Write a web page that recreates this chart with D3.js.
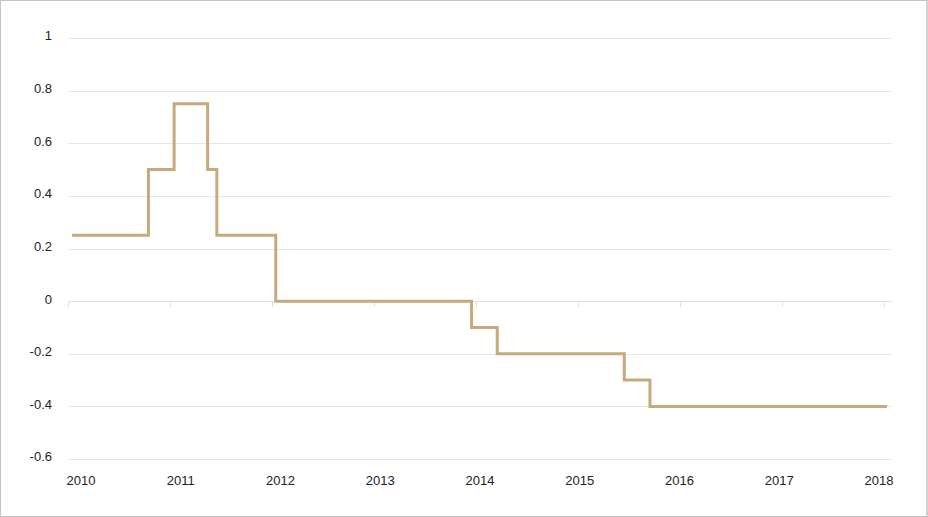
<!DOCTYPE html>
<html>
<head>
<meta charset="utf-8">
<script src="https://cdn.jsdelivr.net/npm/d3@7"></script>
<style>
  html, body { margin: 0; padding: 0; background: #fff; }
  svg { display: block; }
  text { font-family: "Liberation Sans", Arial, sans-serif; }
</style>
</head>
<body>
<svg id="chart" width="928" height="517"></svg>
<script>
// ---- data ----
const stepDates = ["2010-01-15", "2010-10-16", "2011-01-16", "2011-05-16", "2011-06-18",
                   "2012-01-15", "2013-12-16", "2014-03-18", "2015-06-16", "2015-09-16", "2018-01-12"];
const stepValues = [0.25, 0.5, 0.75, 0.5, 0.25, 0, -0.1, -0.2, -0.3, -0.4, -0.4];
const yTicks = [1, 0.8, 0.6, 0.4, 0.2, 0, -0.2, -0.4, -0.6];
const yTickLabels = ["1", "0.8", "0.6", "0.4", "0.2", "0", "-0.2", "-0.4", "-0.6"];
const xYears = [2010, 2011, 2012, 2013, 2014, 2015, 2016, 2017, 2018];
const xTickLabels = ["2010", "2011", "2012", "2013", "2014", "2015", "2016", "2017", "2018"];

const W = 928, H = 517;
const svg = d3.select("#chart");

// border
svg.append("rect").attr("x", 0.5).attr("y", 0.5).attr("width", W - 1.5).attr("height", H - 1)
  .attr("fill", "#fff").attr("stroke", "#c4c4c4").attr("stroke-width", 1);
svg.append("line").attr("x1", W - 1).attr("x2", W - 1).attr("y1", 0).attr("y2", H)
  .attr("stroke", "#c4c4c4").attr("stroke-width", 1);

const parse = d3.timeParse("%Y-%m-%d");
const x = d3.scaleTime()
  .domain([new Date(2010, 0, 1), new Date(2018, 0, 1)])
  .range([68, 884]);
const xLabel = d3.scaleLinear().domain([2010, 2018]).range([81, 879]);
const y = d3.scaleLinear().domain([-0.6, 1]).range([459, 38]);

const gridX1 = 68, gridX2 = 892;

// gridlines
svg.append("g").selectAll("line").data(yTicks).join("line")
  .attr("x1", gridX1).attr("x2", gridX2)
  .attr("y1", d => Math.round(y(d)) + 0.5).attr("y2", d => Math.round(y(d)) + 0.5)
  .attr("stroke", d => d === 0 ? "#e0e0e0" : "#e6e6e6").attr("stroke-width", 1);

// y labels
svg.append("g").selectAll("text").data(yTicks).join("text")
  .attr("x", 52).attr("y", d => y(d) - 1)
  .attr("text-anchor", "end").attr("dominant-baseline", "middle")
  .attr("font-size", 13).attr("fill", "#222")
  .text((d, i) => yTickLabels[i]);

// x tick marks on zero line
svg.append("g").selectAll("line").data(xYears).join("line")
  .attr("x1", d => Math.round(x(new Date(d, 0, 1))) + 0.5)
  .attr("x2", d => Math.round(x(new Date(d, 0, 1))) + 0.5)
  .attr("y1", Math.round(y(0))).attr("y2", Math.round(y(0)) + 6)
  .attr("stroke", "#e0e0e0").attr("stroke-width", 1);

// x labels
svg.append("g").selectAll("text").data(xYears).join("text")
  .attr("x", d => xLabel(d)).attr("y", 485)
  .attr("text-anchor", "middle")
  .attr("font-size", 13).attr("fill", "#222")
  .text((d, i) => xTickLabels[i]);

// step line
const pts = stepDates.map((d, i) => ({ date: parse(d), v: stepValues[i] }));
const line = d3.line().x(d => x(d.date)).y(d => y(d.v)).curve(d3.curveStepAfter);
svg.append("path").datum(pts)
  .attr("d", line)
  .attr("fill", "none")
  .attr("stroke", "#c8a97b")
  .attr("stroke-width", 3)
  .attr("stroke-linejoin", "miter");
</script>
</body>
</html>
